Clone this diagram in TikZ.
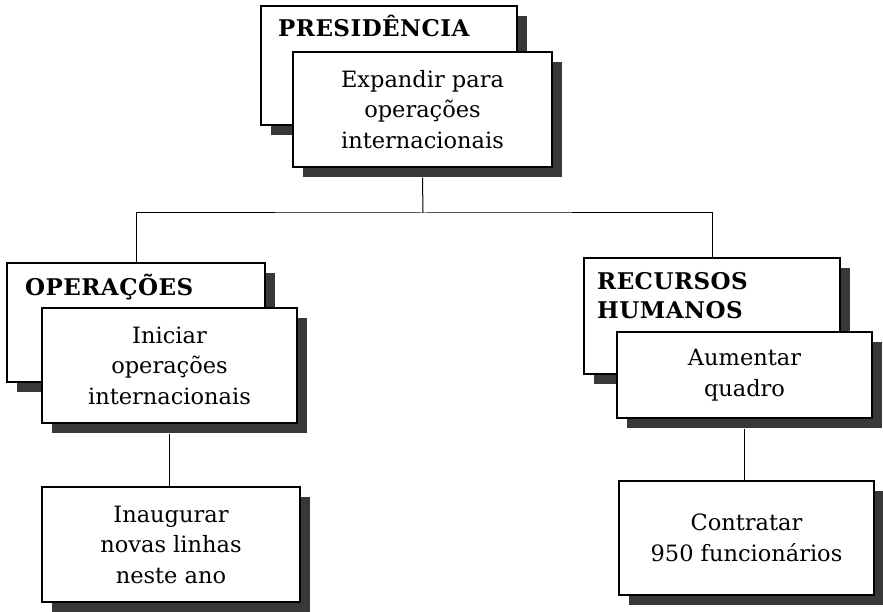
\documentclass[tikz,border=0pt]{standalone}
\usepackage{fontspec}
\setmainfont{DejaVu Serif}
\newfontfamily\headfont{DejaVu Serif}[LetterSpace=2]
\usetikzlibrary{shadows}
\tikzset{
  shadowed/.style={draw=black, line width=1.2pt, fill=white, inner sep=0pt,
    drop shadow={shadow xshift=10pt, shadow yshift=-10pt, fill=black!78, opacity=1}},
  bodytext/.style={font=\fontsize{22.5}{30.5}\selectfont, align=center},
  headtext/.style={font=\headfont\bfseries\fontsize{23}{29}\selectfont, inner sep=0pt, align=left},
  link/.style={draw=black, line width=1pt}
}
\begin{document}
\begin{tikzpicture}[x=1pt,y=-1pt]
\useasboundingbox (0,0) rectangle (883,612);
% presidencia
\node[shadowed, minimum width=256pt, minimum height=119pt] (pb) at (389,65.5) {};
\node[headtext, anchor=base west] (ph) at (278,37) {PRESIDÊNCIA};
\node[shadowed, bodytext, minimum width=259pt, minimum height=115pt] (pf) at (422.5,109.5)
  {Expandir para\\operações\\internacionais};
% operacoes
\node[shadowed, minimum width=258pt, minimum height=119pt] (ob) at (136,322.5) {};
\node[headtext, anchor=base west] (oh) at (25,295) {OPERAÇÕES};
\node[shadowed, bodytext, minimum width=255pt, minimum height=115pt] (of) at (169.5,365.5)
  {Iniciar\\operações\\internacionais};
\node[shadowed, bodytext, minimum width=258pt, minimum height=115pt] (bl) at (171,544.5)
  {Inaugurar\\novas linhas\\neste ano};
% recursos humanos
\node[shadowed, minimum width=256pt, minimum height=116pt] (rb) at (712,316) {};
\node[headtext, anchor=north west] (rh) at (597,272) {RECURSOS\\HUMANOS};
\node[shadowed, bodytext, minimum width=255pt, minimum height=86pt] (rf) at (744.5,375)
  {Aumentar\\quadro};
\node[shadowed, bodytext, minimum width=255pt, minimum height=114pt] (br) at (746.5,538)
  {Contratar\\950 funcionários};
% connectors
\coordinate (hub) at (423,213);
\draw[link] ([yshift=-10pt]pf.south) -- (hub);
\draw[link] (ob.north) |- (hub) -| (rb.north);
\draw[link] ([yshift=-10pt]of.south) -- (of.south |- bl.north);
\draw[link] ([yshift=-10pt]rf.south) -- (rf.south |- br.north);
\end{tikzpicture}
\end{document}
